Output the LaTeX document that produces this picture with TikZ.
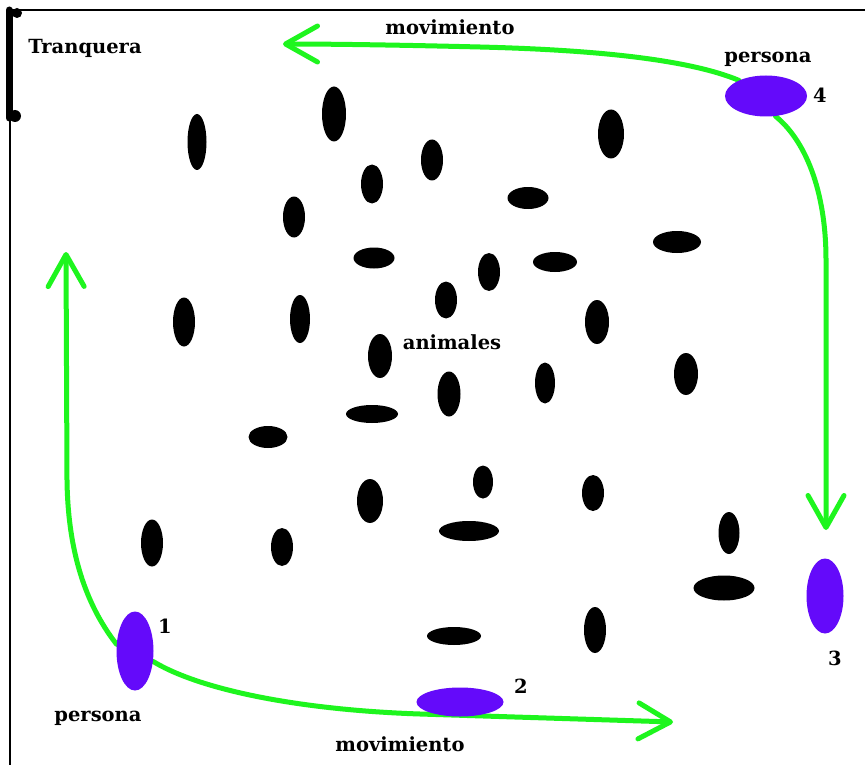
\documentclass[tikz,border=0pt]{standalone}
\usepackage{fontspec}
\setmainfont{DejaVu Serif}
\usetikzlibrary{shapes.geometric,arrows.meta,backgrounds}
\definecolor{mygreen}{RGB}{30,245,30}
\definecolor{myblue}{RGB}{100,10,250}
\newcommand\animalnode[5]{\node[animal,minimum width=#4pt,minimum height=#5pt] (#1) at (#2,#3) {};}
\begin{document}
\begin{tikzpicture}[x=1pt,y=-1pt,
  animal/.style={ellipse, fill=black, inner sep=0pt, draw=none},
  persona/.style={ellipse, fill=myblue, inner sep=0pt, draw=none},
  lbl/.style={font=\bfseries\fontsize{19.5}{19.5}\selectfont, inner sep=0pt, anchor=base},
  mov/.style={draw=mygreen, line width=5pt, line cap=round, line join=round,
    -{Straight Barb[length=32pt,width=36pt,line cap=round,line join=round]}}]
\useasboundingbox (0,0) rectangle (865,765);
% frame
\draw[line width=1.5pt] (10,765) -- (10,10) -- (865,10);
% tranquera
\draw[line width=7pt, line cap=round] (9,10) -- (9,118);
\fill (17,13) circle (5);
\fill (15,116) circle (6);
\node[lbl] (tranq) at (85,54) {Tranquera};
% animals
\animalnode{a1}{197}{142}{19}{56}
\animalnode{a2}{334}{114}{24}{55}
\animalnode{a3}{432}{160}{22}{41}
\animalnode{a4}{372}{184}{22}{39}
\animalnode{a5}{611}{134}{26}{49}
\animalnode{a6}{528}{198}{41}{22}
\animalnode{a7}{294}{217}{22}{41}
\animalnode{a8}{677}{242}{48}{22}
\animalnode{a9}{374}{258}{41}{21}
\animalnode{a10}{555}{262}{44}{20}
\animalnode{a11}{489}{272}{22}{38}
\animalnode{a12}{184}{322}{22}{49}
\animalnode{a13}{300}{319}{20}{48}
\animalnode{a14}{446}{300}{22}{37}
\animalnode{a15}{597}{322}{24}{44}
\animalnode{a16}{380}{356}{24}{44}
\animalnode{a17}{686}{374}{24}{42}
\animalnode{a18}{545}{383}{20}{41}
\animalnode{a19}{449}{394}{23}{45}
\animalnode{a20}{372}{414}{52}{18}
\animalnode{a21}{268}{437}{39}{22}
\animalnode{a22}{483}{482}{20}{33}
\animalnode{a23}{370}{501}{26}{44}
\animalnode{a24}{593}{493}{22}{36}
\animalnode{a25}{469}{531}{60}{20}
\animalnode{a26}{152}{543}{22}{47}
\animalnode{a27}{282}{547}{22}{38}
\animalnode{a28}{729}{533}{21}{42}
\animalnode{a29}{724}{588}{61}{25}
\animalnode{a30}{454}{636}{54}{18}
\animalnode{a31}{595}{630}{22}{46}
\node[lbl] (anim) at (452,349) {animales};
% personas
\node[persona, minimum width=37pt, minimum height=79pt] (p1) at (135,651) {};
\node[persona, minimum width=87pt, minimum height=29pt] (p2) at (460,702) {};
\node[persona, minimum width=37pt, minimum height=75pt] (p3) at (825,596) {};
\node[persona, minimum width=82pt, minimum height=41pt] (p4) at (766,96) {};
\node[lbl] (n1) at (165,633) {1};
\node[lbl] (n2) at (521,693) {2};
\node[lbl] (n3) at (835,665) {3};
\node[lbl] (n4) at (820,103) {4};
\node[lbl] (pers4) at (768,63) {persona};
\node[lbl] (pers1) at (98,721) {persona};
\node[lbl] (movtop) at (450,35) {movimiento};
\node[lbl] (movbot) at (400,751) {movimiento};
% arrow ends
\coordinate (t1) at (283,44);
\coordinate (t2) at (826,530);
\coordinate (t3) at (66,252);
\coordinate (t4) at (673,722);
\begin{pgfonlayer}{background}
\fill[white] (0,0) rectangle (865,765);
\draw[mov] (p4.150) .. controls (690,60) and (600,50) .. (480,47) .. controls (400,45) and (330,44) .. (t1);
\draw[mov] (p4.-65) .. controls (805,140) and (826,190) .. (826,260) -- (t2);
\draw[mov] (p1.160) .. controls (90,610) and (68,560) .. (67,480) -- (t3);
\draw[mov] (p1.-30) .. controls (200,690) and (300,710) .. (420,714) -- (t4);
\end{pgfonlayer}
\end{tikzpicture}
\end{document}
